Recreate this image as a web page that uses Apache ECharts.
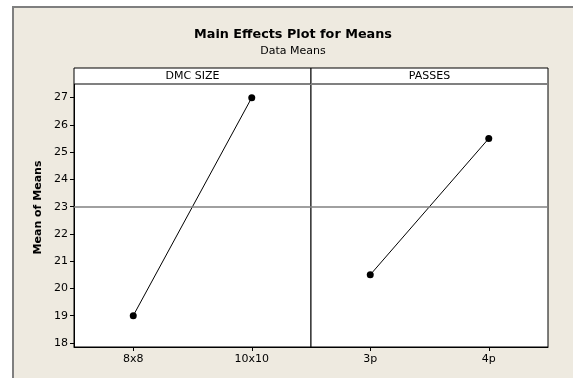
<!DOCTYPE html>
<html><head><meta charset="utf-8">
<script src="https://cdn.jsdelivr.net/npm/echarts@6/dist/echarts.min.js"></script>
<style>html,body{margin:0;padding:0;background:#fff}#c{width:573px;height:378px}</style>
</head><body><div id="c"></div>
<script>
const factors = ['DMC SIZE', 'PASSES'];
const dmcLevels = ['8x8', '10x10'];
const dmcMeans = [19, 27];
const passLevels = ['3p', '4p'];
const passMeans = [20.5, 25.5];
const grandMean = 23;
const yTicks = [18, 19, 20, 21, 22, 23, 24, 25, 26, 27];

const FONT = 'DejaVu Sans';
const chart = echarts.init(document.getElementById('c'), null, {renderer: 'canvas'});
const G = [{left: 74, top: 84, width: 237, height: 263}, {left: 311, top: 84, width: 237, height: 263}];
const yMin = 17.85, yMax = 27.5;

function header(i, text) {
  const g = G[i];
  return {type: 'group', children: [
    {type: 'rect', shape: {x: g.left, y: 68, width: g.width, height: 16}, style: {fill: '#fff', stroke: '#000', lineWidth: 1}},
    {type: 'line', shape: {x1: g.left, y1: 84, x2: g.left + g.width, y2: 84}, style: {stroke: '#808080', lineWidth: 2}},
    {type: 'text', x: g.left + g.width / 2, y: 76, style: {text: text, fill: '#000', font: '11px "' + FONT + '"', align: 'center', verticalAlign: 'middle'}}
  ]};
}

const option = {
  backgroundColor: '#fff',
  animation: false,
  graphic: [
    {type: 'rect', z: -10, shape: {x: 13, y: 7, width: 580, height: 400}, style: {fill: '#EEEAE0', stroke: '#7f7f7f', lineWidth: 2}},
    {type: 'text', x: 293, y: 35, style: {text: 'Main Effects Plot for Means', fill: '#000', font: 'bold 12.8px "' + FONT + '"', align: 'center', verticalAlign: 'middle'}},
    {type: 'text', x: 293, y: 51, style: {text: 'Data Means', fill: '#000', font: '11px "' + FONT + '"', align: 'center', verticalAlign: 'middle'}},
    {type: 'text', x: 38, y: 207.5, rotation: Math.PI / 2, style: {text: 'Mean of Means', fill: '#000', font: 'bold 11px "' + FONT + '"', align: 'center', verticalAlign: 'middle'}},
    header(0, factors[0]),
    header(1, factors[1])
  ],
  grid: G.map(g => Object.assign({show: true, backgroundColor: '#fff', borderColor: '#000', borderWidth: 1, containLabel: false}, g)),
  xAxis: [
    {type: 'category', gridIndex: 0, data: dmcLevels, boundaryGap: true,
     axisLine: {lineStyle: {color: '#000'}}, axisTick: {show: true, alignWithLabel: true, length: 4, lineStyle: {color: '#000'}},
     axisLabel: {color: '#000', fontFamily: FONT, fontSize: 11, margin: 7}},
    {type: 'category', gridIndex: 1, data: passLevels, boundaryGap: true,
     axisLine: {lineStyle: {color: '#000'}}, axisTick: {show: true, alignWithLabel: true, length: 4, lineStyle: {color: '#000'}},
     axisLabel: {color: '#000', fontFamily: FONT, fontSize: 11, margin: 7}}
  ],
  yAxis: [
    {type: 'value', gridIndex: 0, min: yMin, max: yMax, interval: 1,
     axisLine: {show: true, lineStyle: {color: '#000'}}, axisTick: {show: true, length: 4, lineStyle: {color: '#000'},
       customValues: yTicks},
     axisLabel: {color: '#000', fontFamily: FONT, fontSize: 11, margin: 6, customValues: yTicks, showMinLabel: true, showMaxLabel: true},
     splitLine: {show: false}},
    {type: 'value', gridIndex: 1, min: yMin, max: yMax, interval: 1, show: false, splitLine: {show: false}}
  ],
  series: [
    {type: 'line', xAxisIndex: 0, yAxisIndex: 0, data: dmcMeans, symbol: 'circle', symbolSize: 7,
     itemStyle: {color: '#000'}, lineStyle: {color: '#000', width: 1},
     markLine: {silent: true, symbol: 'none', label: {show: false}, lineStyle: {color: '#808080', type: 'solid', width: 1.5}, data: [{yAxis: grandMean}]}},
    {type: 'line', xAxisIndex: 1, yAxisIndex: 1, data: passMeans, symbol: 'circle', symbolSize: 7,
     itemStyle: {color: '#000'}, lineStyle: {color: '#000', width: 1},
     markLine: {silent: true, symbol: 'none', label: {show: false}, lineStyle: {color: '#808080', type: 'solid', width: 1.5}, data: [{yAxis: grandMean}]}}
  ]
};
chart.setOption(option);
</script>
</body></html>
